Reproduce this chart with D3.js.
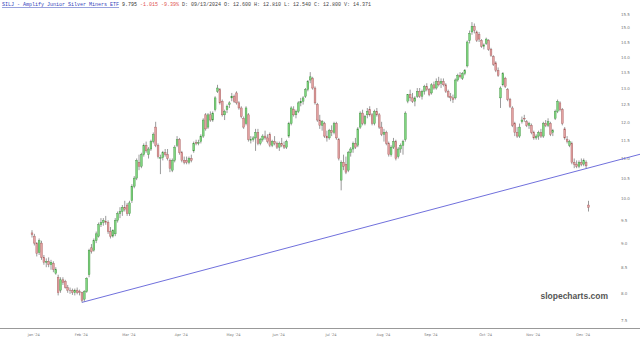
<!DOCTYPE html>
<html>
<head>
<meta charset="utf-8">
<script src="https://cdn.jsdelivr.net/npm/d3@7"></script>
<style>
html, body { margin: 0; padding: 0; background: #fff; }
svg { display: block; }
.hdr { font-family: "Liberation Mono", "DejaVu Sans Mono", monospace; font-size: 5px; white-space: pre; }
.axis text { font-family: "DejaVu Sans", sans-serif; fill: #777; }
</style>
</head>
<body>
<script>
// daily candles, rows are [day, open, high, low, close]
var jan24 = [
    [29, 9.22, 9.28, 9.12, 9.18], [30, 9.15, 9.2, 8.95, 9.0], [31, 9.0, 9.02, 8.72, 8.78]
];
var feb24 = [
    [1, 8.8, 9.1, 8.75, 9.05], [2, 9.0, 9.05, 8.65, 8.7], [5, 8.7, 8.75, 8.55, 8.6],
    [6, 8.6, 8.68, 8.5, 8.62], [7, 8.62, 8.7, 8.5, 8.55], [8, 8.55, 8.65, 8.45, 8.6],
    [9, 8.58, 8.62, 8.4, 8.45], [12, 8.38, 8.5, 8.35, 8.45], [13, 8.3, 8.35, 7.95, 8.0],
    [14, 8.05, 8.3, 8.0, 8.25], [15, 8.25, 8.3, 8.15, 8.2], [16, 8.22, 8.25, 8.08, 8.1],
    [20, 8.1, 8.15, 8.0, 8.05], [21, 8.05, 8.1, 7.98, 8.04], [22, 8.04, 8.08, 7.96, 8.0],
    [23, 8.0, 8.08, 7.95, 8.05], [26, 8.05, 8.1, 7.97, 8.0], [27, 8.02, 8.06, 7.95, 8.0],
    [28, 8.0, 8.02, 7.82, 7.86], [29, 7.88, 8.05, 7.84, 8.02]
];
var mar24 = [
    [1, 8.02, 8.3, 8.0, 8.28], [4, 8.35, 8.88, 8.3, 8.85], [5, 8.9, 8.98, 8.78, 8.82],
    [6, 8.85, 9.1, 8.82, 9.05], [7, 9.05, 9.25, 9.0, 9.2], [8, 9.15, 9.45, 9.12, 9.4],
    [11, 9.4, 9.55, 9.35, 9.45], [12, 9.45, 9.55, 9.38, 9.5], [13, 9.48, 9.6, 9.4, 9.45],
    [14, 9.45, 9.5, 9.2, 9.25], [15, 9.25, 9.35, 9.1, 9.15], [18, 9.15, 9.3, 9.12, 9.28],
    [19, 9.2, 9.55, 9.15, 9.5], [20, 9.5, 9.7, 9.45, 9.65], [21, 9.65, 9.8, 9.55, 9.7],
    [22, 9.7, 9.85, 9.6, 9.8], [25, 9.8, 9.95, 9.7, 9.75], [26, 9.85, 9.9, 9.6, 9.65],
    [27, 9.65, 9.95, 9.6, 9.9], [28, 9.95, 10.35, 9.9, 10.3]
];
var apr24 = [
    [1, 10.3, 10.55, 10.25, 10.5], [2, 10.5, 11.0, 10.45, 10.95], [3, 10.9, 11.1, 10.7, 10.8],
    [4, 10.8, 11.15, 10.75, 11.1], [5, 11.1, 11.4, 11.05, 11.35], [8, 11.35, 11.45, 11.15, 11.2],
    [9, 11.1, 11.3, 11.0, 11.25], [10, 11.25, 11.5, 11.2, 11.45], [11, 11.45, 11.7, 11.4, 11.65],
    [12, 11.85, 12.0, 11.3, 11.35], [15, 11.35, 11.4, 11.0, 11.05], [16, 11.0, 11.1, 10.6, 11.02],
    [17, 11.02, 11.2, 10.95, 11.15], [18, 11.15, 11.25, 11.05, 11.1], [19, 11.1, 11.25, 10.95, 11.0],
    [22, 10.95, 11.0, 10.65, 10.75], [23, 10.7, 11.0, 10.65, 10.95], [24, 10.95, 11.35, 10.9, 11.3],
    [25, 11.35, 11.6, 11.3, 11.5], [26, 11.5, 11.55, 11.1, 11.15], [29, 11.15, 11.2, 10.9, 10.95],
    [30, 10.95, 11.05, 10.85, 10.9]
];
var may24 = [
    [1, 10.95, 11.05, 10.85, 10.9], [2, 10.9, 11.05, 10.85, 11.0], [3, 11.0, 11.1, 10.9, 10.95],
    [6, 11.2, 11.45, 11.15, 11.4], [7, 11.42, 11.5, 11.35, 11.4], [8, 11.4, 11.5, 11.35, 11.42],
    [9, 11.45, 11.65, 11.4, 11.6], [10, 11.6, 12.1, 11.55, 12.05], [13, 12.2, 12.25, 11.75, 11.8],
    [14, 11.85, 12.25, 11.8, 12.2], [15, 12.2, 12.3, 12.0, 12.05], [16, 12.05, 12.3, 12.0, 12.25],
    [17, 12.35, 12.75, 12.3, 12.7], [20, 12.9, 13.1, 12.85, 13.0], [21, 12.95, 13.0, 12.5, 12.55],
    [22, 12.6, 12.65, 12.15, 12.2], [23, 12.2, 12.35, 12.05, 12.3], [24, 12.35, 12.5, 12.25, 12.45],
    [28, 12.5, 12.6, 12.4, 12.55], [29, 12.7, 12.85, 12.6, 12.75], [30, 12.75, 12.8, 12.55, 12.6],
    [31, 12.85, 12.9, 12.5, 12.55]
];
var jun24 = [
    [3, 12.55, 12.6, 12.35, 12.4], [4, 12.4, 12.45, 12.1, 12.15], [5, 12.1, 12.15, 11.8, 11.85],
    [6, 11.95, 12.45, 11.9, 12.4], [7, 12.2, 12.25, 11.45, 11.5], [10, 11.5, 11.6, 11.4, 11.5],
    [11, 11.5, 11.6, 11.45, 11.55], [12, 11.55, 11.8, 11.2, 11.7], [13, 11.7, 11.8, 11.35, 11.4],
    [14, 11.4, 11.55, 11.35, 11.5], [17, 11.5, 11.65, 11.45, 11.6], [18, 11.6, 11.75, 11.5, 11.55],
    [20, 11.55, 11.65, 11.4, 11.45], [21, 11.65, 11.7, 11.3, 11.35], [24, 11.35, 11.5, 11.3, 11.45],
    [25, 11.45, 11.6, 11.35, 11.4], [26, 11.4, 11.45, 11.25, 11.3], [27, 11.3, 11.45, 11.2, 11.4],
    [28, 11.4, 11.55, 11.3, 11.35]
];
var jul24 = [
    [1, 11.35, 11.45, 11.25, 11.3], [2, 11.3, 11.5, 11.25, 11.45], [3, 11.6, 12.0, 11.55, 11.95],
    [5, 11.95, 12.45, 11.9, 12.4], [8, 12.35, 12.45, 12.15, 12.2], [9, 12.2, 12.35, 12.1, 12.3],
    [10, 12.3, 12.6, 12.25, 12.55], [11, 12.55, 12.7, 12.45, 12.6], [12, 12.6, 12.75, 12.5, 12.7],
    [15, 12.75, 13.0, 12.7, 12.95], [16, 12.95, 13.25, 12.9, 13.2], [17, 13.25, 13.5, 13.15, 13.35],
    [18, 13.3, 13.35, 12.95, 13.0], [19, 13.0, 13.05, 12.5, 12.55], [22, 12.5, 12.55, 12.0, 12.05],
    [23, 12.05, 12.2, 11.8, 11.9], [24, 11.9, 12.05, 11.75, 12.0], [25, 11.95, 12.0, 11.55, 11.6],
    [26, 11.6, 11.75, 11.45, 11.55], [29, 11.55, 11.8, 11.5, 11.75], [30, 11.75, 11.9, 11.6, 11.7],
    [31, 11.7, 12.0, 11.65, 11.95]
];
var aug24 = [
    [1, 11.95, 12.0, 11.5, 11.55], [2, 11.5, 11.55, 10.95, 11.0], [5, 10.45, 10.95, 10.2, 10.9],
    [6, 10.9, 11.1, 10.7, 10.8], [7, 10.85, 11.05, 10.6, 10.65], [8, 10.7, 11.2, 10.65, 11.15],
    [9, 11.15, 11.3, 11.05, 11.25], [12, 11.25, 11.45, 11.15, 11.4], [13, 11.4, 11.55, 11.25, 11.3],
    [14, 11.35, 11.85, 11.3, 11.8], [15, 11.85, 12.3, 11.8, 12.25], [16, 12.25, 12.35, 11.9, 11.95],
    [19, 11.95, 12.2, 11.9, 12.15], [20, 12.2, 12.4, 12.1, 12.3], [21, 12.35, 12.45, 12.15, 12.2],
    [22, 12.2, 12.25, 11.9, 11.95], [23, 11.95, 12.35, 11.9, 12.3], [26, 12.3, 12.4, 12.15, 12.2],
    [27, 12.2, 12.25, 11.8, 11.85], [28, 11.85, 12.0, 11.6, 11.65], [29, 11.65, 11.8, 11.45, 11.7],
    [30, 11.7, 11.75, 11.35, 11.4]
];
var sep24 = [
    [3, 11.4, 11.45, 11.05, 11.1], [4, 11.1, 11.35, 11.05, 11.3], [5, 11.3, 11.55, 11.25, 11.45],
    [6, 11.45, 11.5, 10.95, 11.0], [9, 11.05, 11.3, 11.0, 11.25], [10, 11.25, 11.4, 11.15, 11.35],
    [11, 11.35, 11.5, 11.1, 11.45], [12, 11.5, 12.3, 11.45, 12.25], [13, 12.6, 12.81, 12.54, 12.8],
    [16, 12.8, 12.95, 12.6, 12.7], [17, 12.7, 12.85, 12.55, 12.6], [18, 12.6, 12.75, 12.45, 12.7],
    [19, 12.75, 13.0, 12.7, 12.9], [20, 12.9, 13.0, 12.7, 12.75], [23, 12.75, 12.95, 12.65, 12.9],
    [24, 12.9, 13.1, 12.8, 13.05], [25, 13.05, 13.15, 12.9, 12.95], [26, 12.95, 13.0, 12.75, 12.8],
    [27, 12.85, 13.15, 12.8, 13.1], [30, 13.1, 13.2, 12.95, 13.0]
];
var oct24 = [
    [1, 13.0, 13.3, 12.95, 13.2], [2, 13.2, 13.35, 13.05, 13.1], [3, 13.15, 13.3, 13.0, 13.2],
    [4, 13.2, 13.3, 13.05, 13.1], [7, 13.1, 13.15, 12.85, 12.9], [8, 12.9, 12.95, 12.7, 12.75],
    [9, 12.75, 12.85, 12.6, 12.7], [10, 12.7, 12.8, 12.55, 12.65], [11, 12.7, 13.3, 12.65, 13.25],
    [14, 13.25, 13.45, 13.2, 13.4], [15, 13.4, 13.5, 13.3, 13.35], [16, 13.3, 13.5, 13.25, 13.45],
    [17, 13.45, 13.6, 13.4, 13.55], [18, 13.7, 14.55, 13.65, 14.5], [21, 14.55, 14.9, 14.45, 14.8],
    [22, 14.85, 15.2, 14.75, 15.05], [23, 15.05, 15.15, 14.8, 14.9], [24, 14.85, 14.9, 14.5, 14.55],
    [25, 14.75, 14.85, 14.5, 14.6], [28, 14.55, 14.6, 14.3, 14.35], [29, 14.35, 14.45, 14.25, 14.4],
    [30, 14.45, 14.65, 14.4, 14.6], [31, 14.55, 14.6, 14.2, 14.25]
];
var nov24 = [
    [1, 14.25, 14.3, 14.0, 14.05], [4, 14.0, 14.05, 13.7, 13.75], [5, 13.8, 13.85, 13.5, 13.55],
    [6, 13.55, 13.65, 13.35, 13.4], [7, 12.7, 13.05, 12.4, 13.0], [8, 13.1, 13.5, 13.05, 13.45],
    [11, 13.3, 13.35, 13.0, 13.05], [12, 12.95, 13.0, 12.6, 12.65], [13, 12.65, 12.7, 12.4, 12.45],
    [14, 12.4, 12.45, 11.85, 11.9], [15, 11.95, 12.0, 11.6, 11.7], [18, 11.7, 11.85, 11.55, 11.6],
    [19, 11.6, 11.95, 11.55, 11.85], [20, 12.0, 12.15, 11.95, 12.05], [21, 12.1, 12.2, 12.0, 12.08],
    [22, 12.0, 12.05, 11.85, 11.9], [25, 11.9, 12.0, 11.8, 11.95], [26, 11.9, 11.95, 11.65, 11.7],
    [27, 11.7, 11.75, 11.5, 11.55], [29, 11.55, 11.65, 11.5, 11.6]
];
var dec24 = [
    [2, 11.6, 11.75, 11.5, 11.7], [3, 11.7, 11.8, 11.55, 11.6], [4, 11.6, 12.0, 11.55, 11.95],
    [5, 11.95, 12.05, 11.85, 11.9], [6, 11.9, 12.1, 11.85, 12.0], [9, 11.95, 12.0, 11.6, 11.65],
    [10, 11.7, 11.8, 11.6, 11.75], [11, 12.1, 12.35, 12.05, 12.3], [12, 12.3, 12.65, 12.25, 12.6],
    [13, 12.55, 12.6, 12.3, 12.35], [16, 12.35, 12.4, 11.9, 11.95], [17, 11.8, 11.85, 11.5, 11.55],
    [18, 11.5, 11.6, 11.4, 11.45], [19, 11.35, 11.5, 11.3, 11.45], [20, 11.4, 11.45, 10.85, 10.9],
    [23, 10.9, 11.0, 10.75, 10.85], [24, 10.85, 10.95, 10.75, 10.8], [26, 10.8, 10.95, 10.75, 10.9],
    [27, 10.9, 11.0, 10.8, 10.85], [30, 10.85, 11.0, 10.8, 10.95], [31, 10.9, 10.95, 10.75, 10.81]
];
var jan25 = [
    [2, 9.85, 9.95, 9.7, 9.795]
];

var monthRows = [
    [2024, 0, jan24], [2024, 1, feb24], [2024, 2, mar24], [2024, 3, apr24],
    [2024, 4, may24], [2024, 5, jun24], [2024, 6, jul24], [2024, 7, aug24],
    [2024, 8, sep24], [2024, 9, oct24], [2024, 10, nov24], [2024, 11, dec24],
    [2025, 0, jan25]
];
var monthLabels = ["Jan '24", "Feb '24", "Mar '24", "Apr '24", "May '24", "Jun '24",
    "Jul '24", "Aug '24", "Sep '24", "Oct '24", "Nov '24", "Dec '24"];
var priceTicks = [7.5, 8.0, 8.5, 9.0, 9.5, 10.0, 10.5, 11.0, 11.5, 12.0, 12.5, 13.0, 13.5, 14.0, 14.5, 15.0, 15.5];
// trendline drawn from the february low through the late december lows
var trendPoints = [["2024-02-28", 7.82], ["2024-12-31", 10.74]];

var width = 640, height = 342;

var candles = [];
var monthEnds = [];
monthRows.forEach(function (m) {
    m[2].forEach(function (r) {
        candles.push({ date: new Date(m[0], m[1], r[0]), o: r[1], h: r[2], l: r[3], c: r[4] });
    });
    if (m[0] === 2024) monthEnds.push(candles.length - 1);
});

var x = d3.scaleLinear()
    .domain([0, candles.length - 1])
    .range([32, 588.5]);
var y = d3.scaleLog()
    .domain([7.5, 15])
    .range([320, 27.7]);

var svg = d3.select("body").append("svg")
    .attr("width", width)
    .attr("height", height);

// x axis
var xAxis = d3.axisBottom(x)
    .tickValues(monthEnds)
    .tickSize(0)
    .tickPadding(5)
    .tickFormat(function (d, i) { return monthLabels[i]; });

var gx = svg.append("g")
    .attr("class", "axis")
    .attr("transform", "translate(0,328)")
    .call(xAxis);
gx.select(".domain").remove();
gx.selectAll("text")
    .attr("dx", -3.5)
    .style("font-size", "3.6px");

svg.append("line")
    .attr("x1", 0).attr("x2", width)
    .attr("y1", 328.5).attr("y2", 328.5)
    .attr("stroke", "#999")
    .attr("stroke-width", 1);

// y axis on the right
var yAxis = d3.axisRight(y)
    .tickValues(priceTicks)
    .tickSize(0)
    .tickPadding(0)
    .tickFormat(d3.format(".1f"));

var gy = svg.append("g")
    .attr("class", "axis")
    .attr("transform", "translate(621,0)")
    .call(yAxis);
gy.select(".domain").remove();
gy.selectAll("text").style("font-size", "4px");

// watermark
svg.append("text")
    .attr("x", 608)
    .attr("y", 299)
    .attr("text-anchor", "end")
    .style("font-family", "'Liberation Sans', Arial, sans-serif")
    .style("font-weight", "bold")
    .style("font-size", "8.5px")
    .style("fill", "#555")
    .text("slopecharts.com");

// trendline
var idxOf = function (s) {
    var t = d3.timeParse("%Y-%m-%d")(s).getTime();
    return candles.findIndex(function (d) { return d.date.getTime() === t; });
};
var p1 = [x(idxOf(trendPoints[0][0])), y(trendPoints[0][1])];
var p2 = [x(idxOf(trendPoints[1][0])), y(trendPoints[1][1])];
var slope = (p2[1] - p1[1]) / (p2[0] - p1[0]);
svg.append("line")
    .attr("x1", p1[0]).attr("y1", p1[1])
    .attr("x2", width).attr("y2", p1[1] + slope * (width - p1[0]))
    .attr("stroke", "#6060d8")
    .attr("stroke-width", 0.9);

// candles
var bw = 1.8;
var g = svg.append("g");
g.selectAll("line.wick")
    .data(candles)
    .enter()
    .append("line")
    .attr("class", "wick")
    .attr("x1", function (d, i) { return x(i); })
    .attr("x2", function (d, i) { return x(i); })
    .attr("y1", function (d) { return y(d.h); })
    .attr("y2", function (d) { return y(d.l); })
    .attr("stroke", "#555")
    .attr("stroke-width", 0.6);

g.selectAll("rect")
    .data(candles)
    .enter()
    .append("rect")
    .attr("x", function (d, i) { return x(i) - bw / 2; })
    .attr("y", function (d) { return y(Math.max(d.o, d.c)); })
    .attr("width", bw)
    .attr("height", function (d) { return Math.max(0.6, Math.abs(y(d.o) - y(d.c))); })
    .attr("fill", function (d) { return d.c >= d.o ? "#7ed67e" : "#e3a0a0"; })
    .attr("stroke", function (d) { return d.c >= d.o ? "#3f8f3f" : "#a35a5a"; })
    .attr("stroke-width", 0.4);

// header line
var hdr = svg.append("text")
    .attr("class", "hdr")
    .attr("x", 2)
    .attr("y", 6);
hdr.append("tspan")
    .style("fill", "#3344bb")
    .style("text-decoration", "underline")
    .text("SILJ - Amplify Junior Silver Miners ETF");
hdr.append("tspan").style("fill", "#333").text(" 9.795");
hdr.append("tspan").style("fill", "#e05050").text(" -1.015 -9.39%");
hdr.append("tspan").style("fill", "#444").text(" D: 09/13/2024 O: 12.600 H: 12.810 L: 12.540 C: 12.800 V: 14.371");
</script>
</body>
</html>
